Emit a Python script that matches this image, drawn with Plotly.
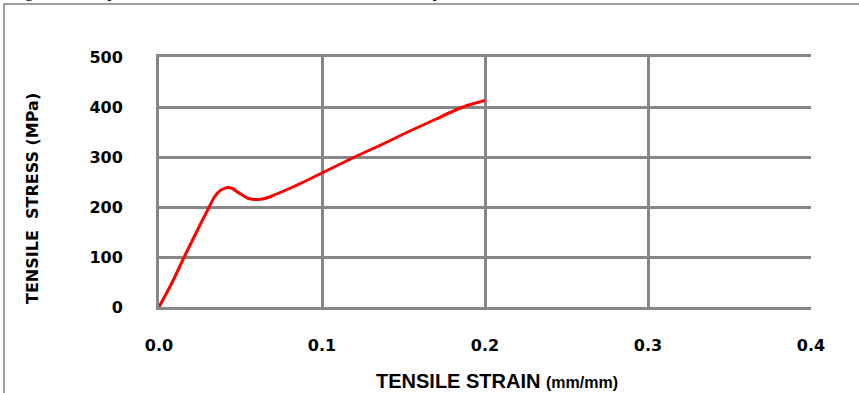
import plotly.graph_objects as go

# Engineering stress-strain curve of the tensile specimen
strain = [0.0, 0.005, 0.01, 0.015, 0.02, 0.025, 0.03, 0.034, 0.038, 0.042, 0.045,
          0.05, 0.055, 0.06, 0.065, 0.07, 0.08, 0.09, 0.1, 0.11, 0.12, 0.13, 0.14,
          0.15, 0.16, 0.17, 0.18, 0.19, 0.2]
stress = [0, 30, 62, 97, 130, 163, 195, 220, 234, 239, 237,
          226, 217, 215, 217, 223, 237, 252, 268, 284, 300, 315, 330,
          346, 361, 376, 391, 404, 413]

x_ticks = [0.0, 0.1, 0.2, 0.3, 0.4]
x_tick_labels = ["0.0", "0.1", "0.2", "0.3", "0.4"]
y_ticks = [0, 100, 200, 300, 400, 500]
y_tick_labels = ["0", "100", "200", "300", "400", "500"]

W, H = 859, 393
L, R, T, B = 159, 48, 57, 86
GRID = "#878787"


def px_x(p):
    return (p - L) / (W - L - R)


def px_y(p):
    return (H - B - p) / (H - T - B)


fig = go.Figure()
fig.add_trace(go.Scatter(
    x=strain, y=stress, mode="lines",
    line=dict(color="#ff0000", width=3, shape="spline", smoothing=0.5),
    showlegend=False, hoverinfo="skip",
))

tick_font = dict(family="DejaVu Sans", size=16, color="#000000", weight="bold")

fig.update_layout(
    width=W, height=H,
    margin=dict(l=L, r=R, t=T, b=B),
    paper_bgcolor="white", plot_bgcolor="white",
    xaxis=dict(range=[0, 0.4], tickvals=x_ticks, ticktext=x_tick_labels,
               showgrid=True, gridcolor=GRID, gridwidth=3, zeroline=False,
               showline=True, linecolor=GRID, linewidth=3, mirror=True,
               ticks="", tickfont=tick_font, ticklabelstandoff=22),
    yaxis=dict(range=[0, 500], tickvals=y_ticks, ticktext=y_tick_labels,
               showgrid=True, gridcolor=GRID, gridwidth=3, zeroline=False,
               showline=True, linecolor=GRID, linewidth=3,
               ticks="", tickfont=tick_font, ticklabelstandoff=30),
    annotations=[
        dict(text="<b>TENSILE  STRESS (MPa)</b>", textangle=-90,
             x=px_x(32), y=px_y(198), xref="paper", yref="paper",
             xanchor="center", yanchor="middle", showarrow=False,
             font=dict(family="DejaVu Sans", size=16, color="#000000")),
        dict(text="<b>TENSILE STRAIN</b> <b><span style='font-size:16px'>(mm/mm)</span></b>",
             x=px_x(497), y=px_y(381), xref="paper", yref="paper",
             xanchor="center", yanchor="middle", showarrow=False,
             font=dict(family="Liberation Sans", size=20, color="#000000")),
        dict(text="Figure 3: Sample stress–strain curve obtained at the room temperature",
             x=px_x(10), y=px_y(2.5), xref="paper", yref="paper",
             xanchor="left", yanchor="bottom", showarrow=False, borderpad=0,
             font=dict(family="Liberation Serif", size=17, color="#000000")),
    ],
    shapes=[
        # outer frame of the figure
        dict(type="rect", xref="paper", yref="paper",
             x0=px_x(4), y0=px_y(4), x1=px_x(W + 10), y1=px_y(H + 10),
             line=dict(color="#808080", width=1.5), layer="below"),
    ],
)

fig.write_html("out.html")
